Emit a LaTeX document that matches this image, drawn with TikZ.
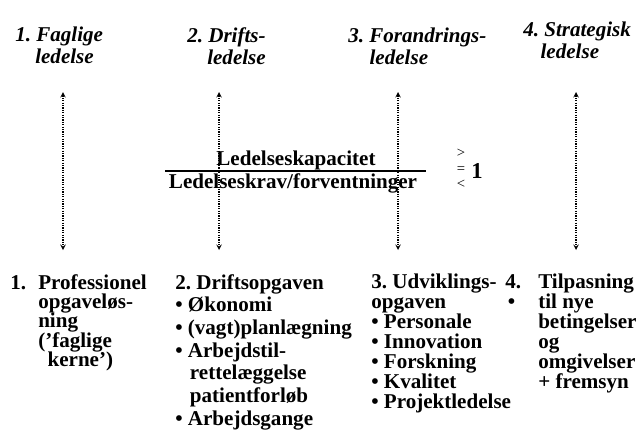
\documentclass[tikz,border=0pt]{standalone}
\usepackage{fontspec}
\setmainfont{Liberation Serif}
\frenchspacing
\usetikzlibrary{arrows}
\usetikzlibrary{positioning}
\tikzstyle{heading} = [inner sep=0pt, align=left, anchor=north west, font=\fontsize{15.8}{16.5}\selectfont\bfseries\itshape]
\tikzstyle{task} = [inner sep=0pt, align=left, anchor=north west, font=\fontsize{15.8}{15}\selectfont\bfseries]
\tikzstyle{frac} = [inner sep=0pt, anchor=base, font=\fontsize{15.8}{15}\selectfont\bfseries]
\tikzstyle{arrow} = [densely dotted, line width=0.8pt, <->, >=stealth]
\begin{document}
\begin{tikzpicture}[x=0.75pt, y=-0.75pt]
\useasboundingbox (0,0) rectangle (638,447);

% the four kinds of leadership
\node [heading] (h1) at (15,27) {1. Faglige\\\hspace{15pt}ledelse};
\node [heading] (h2) at (187,27) {2. Drifts-\\\hspace{15pt}ledelse};
\node [heading] (h3) at (348,28) {3. Forandrings-\\\hspace{16pt}ledelse};
\node [heading] (h4) at (523,22) {4. Strategisk\\\hspace{13pt}ledelse};

\coordinate (a1t) at (63,92);
\coordinate (a1b) at (63,250);
\coordinate (a2t) at (219,92);
\coordinate (a2b) at (219,250);
\coordinate (a3t) at (398,92);
\coordinate (a3b) at (398,250);
\coordinate (a4t) at (576,92);
\coordinate (a4b) at (576,250);

% capacity / demands
\node [frac] (kap) at (296,165) {Ledelseskapacitet};
\node [frac] (krav) at (293,188) {Ledelseskrav/forventninger};
\coordinate (fracL) at (165,171);
\coordinate (fracR) at (426,171);
\node [inner sep=0pt, align=center, font=\fontsize{11}{11.5}\selectfont] (cmp) at (461,169) {>\\=\\<};
\node [frac, anchor=center, font=\fontsize{17}{17}\selectfont\bfseries] (one) at (477,171) {1};

% the tasks
\node [task] (t1) at (10,274) {\makebox[21pt][l]{1.}Professionel\\[-0.5pt]
  \hspace{21pt}opgaveløs-\\[-0.5pt]
  \hspace{21pt}ning\\[-0.5pt]
  \hspace{21pt}(’faglige\\[-0.5pt]
  \hspace{28pt}kerne’)};
\node [task] (t2) at (175,274) {2. Driftsopgaven\\[2pt]
  \textbullet\ Økonomi\\[2pt]
  \textbullet\ (vagt)planlægning\\[2pt]
  \textbullet\ Arbejdstil-\\[2pt]
  \hspace{11pt}rettelæggelse\\[2pt]
  \hspace{11pt}patientforløb\\[2pt]
  \textbullet\ Arbejdsgange};
\node [task] (t3) at (371,274) {3. Udviklings-\\opgaven\\\textbullet\ Personale\\\textbullet\ Innovation\\\textbullet\ Forskning\\\textbullet\ Kvalitet\\\textbullet\ Projektledelse};
\node [task] (t4) at (505,274) {\makebox[24.75pt][l]{4.}Tilpasning\\
  \makebox[24.75pt][l]{\hspace{2pt}\textbullet}til nye\\
  \hspace{24.75pt}betingelser\\
  \hspace{24.75pt}og\\
  \hspace{24.75pt}omgivelser\\
  \hspace{24.75pt}+ fremsyn};

\draw [line width=0.8pt] (fracL) -- (fracR);
\draw [arrow] (a1t) -- (a1b);
\draw [arrow] (a2t) -- (a2b);
\draw [arrow] (a3t) -- (a3b);
\draw [arrow] (a4t) -- (a4b);

\end{tikzpicture}
\end{document}
